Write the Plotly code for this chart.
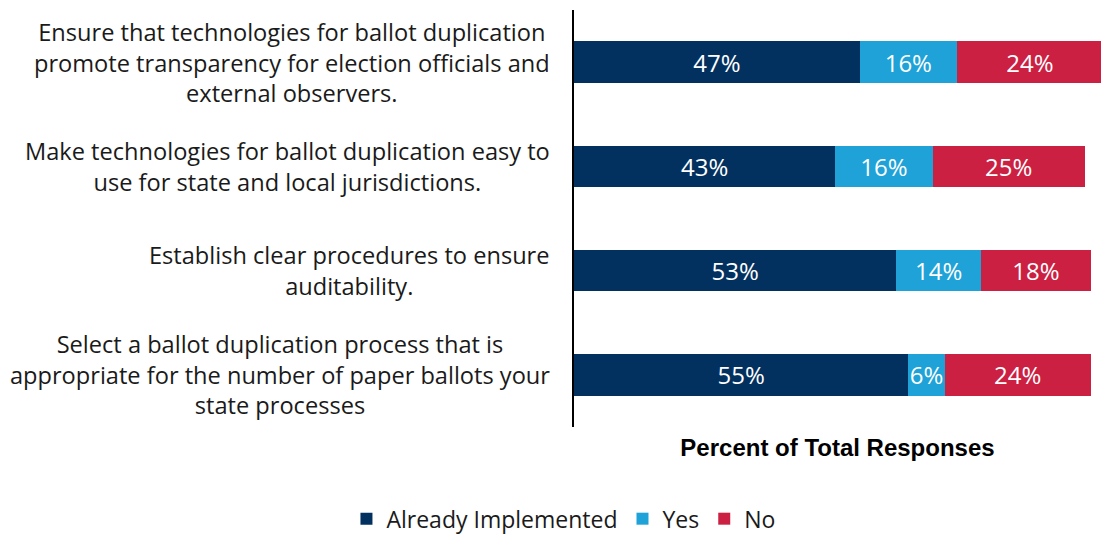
import plotly.graph_objects as go

# Survey statements (top to bottom) and response shares in percent
statements = [
    "Ensure that technologies for ballot duplication<br>promote transparency for election officials and<br>external observers.",
    "Make technologies for ballot duplication easy to<br>use for state and local jurisdictions.",
    "Establish clear procedures to ensure<br>auditability.",
    "Select a ballot duplication process that is<br>appropriate for the number of paper ballots your<br>state processes",
]
already_implemented = [47, 43, 53, 55]
yes = [16, 16, 14, 6]
no = [24, 25, 18, 24]

series = [
    ("Already Implemented", already_implemented, "#03315F"),
    ("Yes", yes, "#1EA2D8"),
    ("No", no, "#CC2043"),
]

BODY_FONT = "Open Sans"

fig = go.Figure()
for name, values, color in series:
    fig.add_trace(go.Bar(
        name=name,
        y=statements,
        x=values,
        orientation="h",
        marker=dict(color=color, line=dict(width=0)),
        texttemplate="%{x}%",
        textposition="inside",
        insidetextanchor="middle",
        constraintext="none",
        textangle=0,
        textfont=dict(family=BODY_FONT, size=24, color="white"),
        hoverinfo="skip",
    ))

# Category labels: right-aligned block, lines centred within the block
for s in statements:
    fig.add_annotation(
        x=0, xref="paper", y=s, yref="y",
        xanchor="right", yanchor="middle", xshift=-22,
        text=s, align="center", showarrow=False,
        font=dict(family=BODY_FONT, size=23.6, color="#1a1a1a"),
    )

fig.update_layout(
    width=1101, height=534,
    margin=dict(l=574, r=0, t=10, b=107, autoexpand=False),
    barmode="stack",
    bargap=0.6,
    plot_bgcolor="white",
    paper_bgcolor="white",
    showlegend=True,
    legend=dict(
        orientation="h",
        x=-0.02, xanchor="center",
        y=-0.22, yanchor="middle",
        font=dict(family=BODY_FONT, size=23, color="#1a1a1a"),
        itemwidth=30,
        traceorder="normal",
    ),
    xaxis=dict(
        range=[0, 86.7],
        automargin=False,
        showgrid=False, zeroline=False, showline=False,
        showticklabels=False, ticks="",
        title=dict(
            text="<b>Percent of Total Responses</b>",
            font=dict(family="Liberation Sans", size=24, color="black"),
            standoff=12,
        ),
        fixedrange=True,
    ),
    yaxis=dict(
        autorange="reversed",
        automargin=False,
        showgrid=False, zeroline=False,
        showline=True, linecolor="black", linewidth=2,
        showticklabels=False, ticks="",
        fixedrange=True,
    ),
)

fig.write_html("out.html")
